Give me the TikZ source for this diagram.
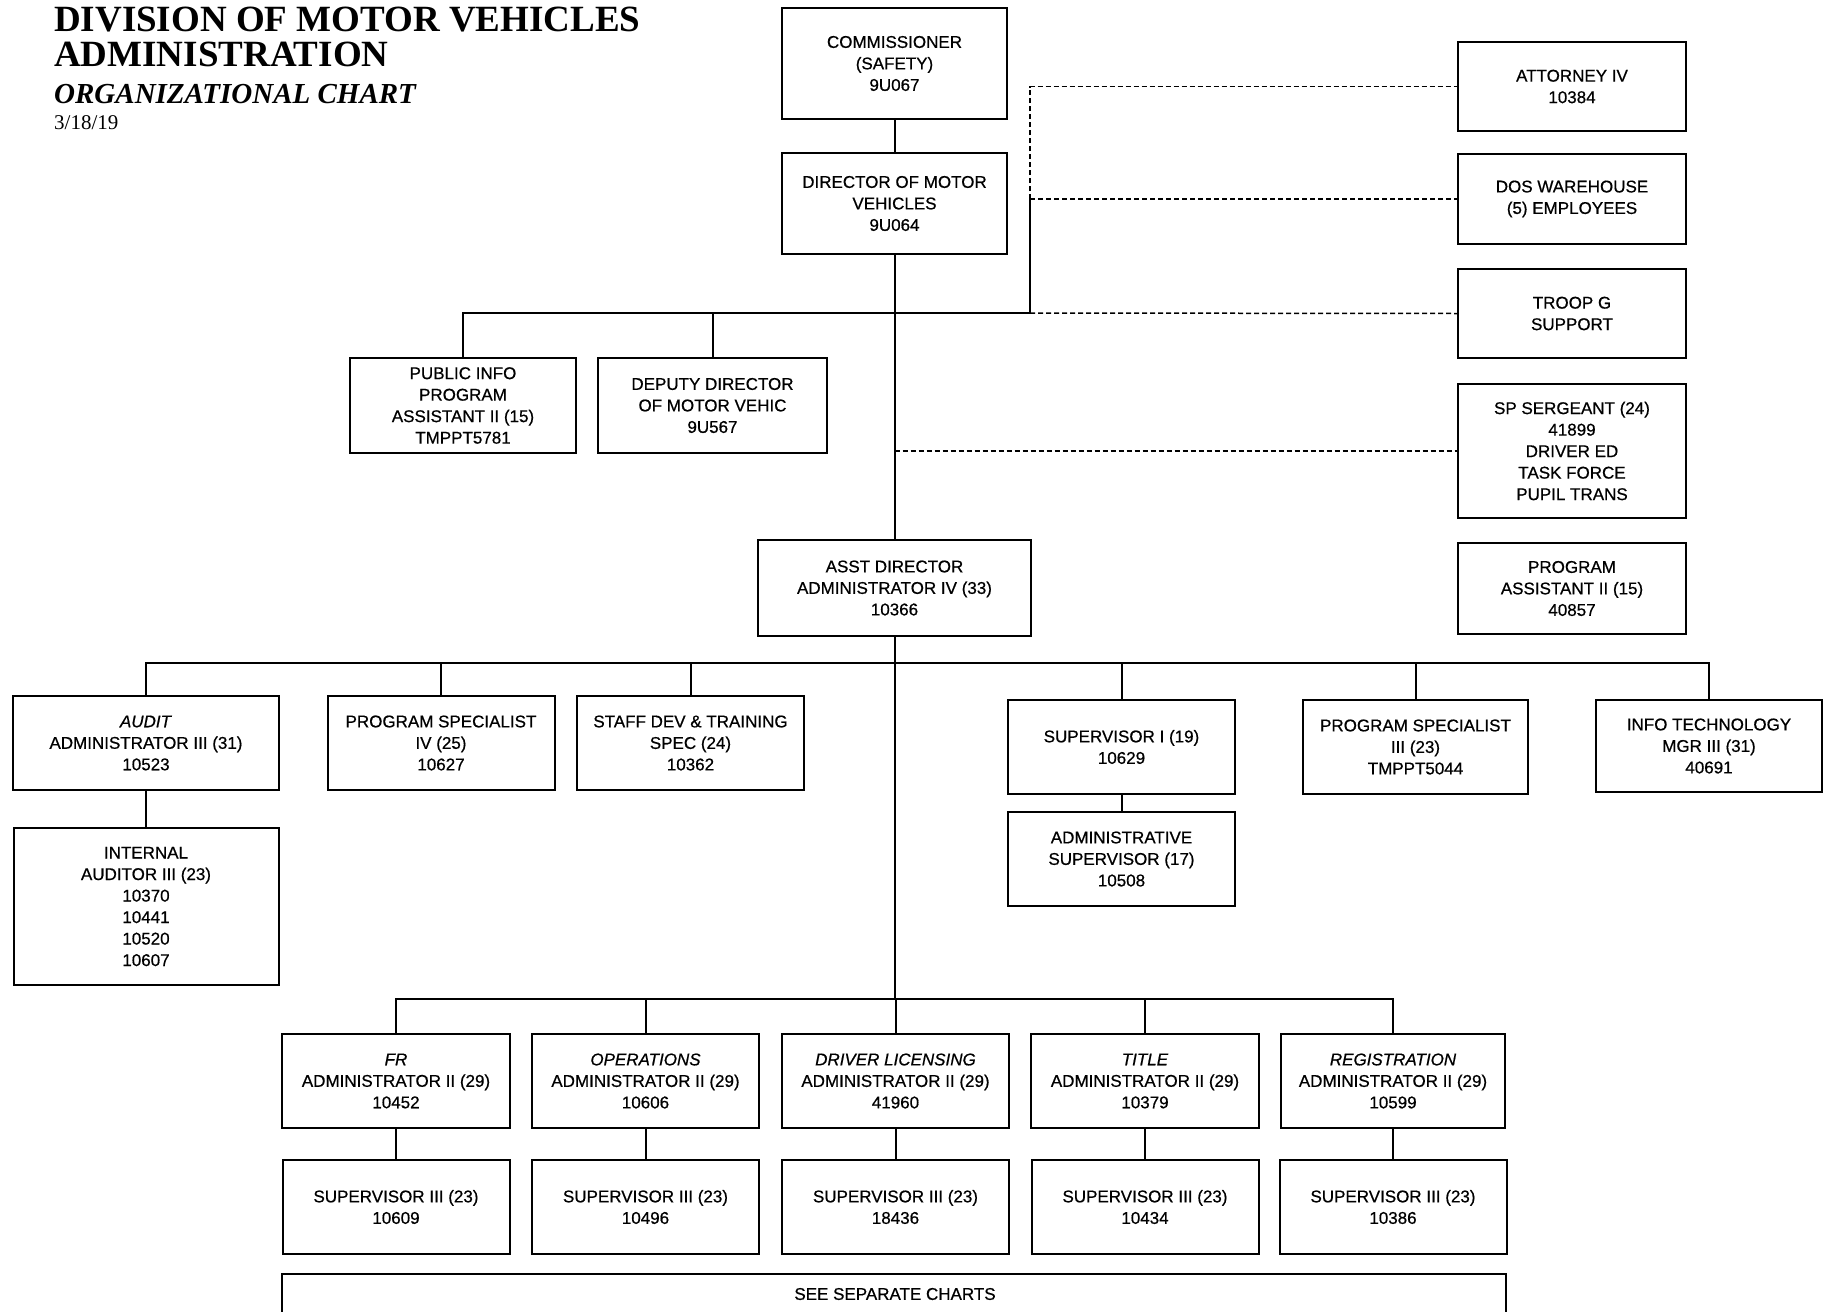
\documentclass[tikz,border=0pt]{standalone}
\usepackage{fontspec}
\newfontfamily\boxfont{Liberation Sans}[FakeBold=0.6]
\newfontfamily\headfont{Liberation Serif}

\usetikzlibrary{positioning}

\begin{document}
\begin{tikzpicture}[x=1pt,y=-1pt,
    box/.style={draw,line width=2pt,align=center,inner sep=0pt,
        font=\boxfont\fontsize{17}{21.5}\selectfont},
    unit/.style={box,minimum width=227pt,minimum height=94pt},
    link/.style={line width=2pt},
    dashlink/.style={line width=1.5pt,dash pattern=on 5pt off 3pt},
    head/.style={anchor=base west,inner sep=0pt}]
    \useasboundingbox (0,0) rectangle (1829,1312);

    \node[head,font=\headfont\bfseries\fontsize{37}{40}\selectfont] (head1) at (54,31.5) {DIVISION OF MOTOR VEHICLES};
    \node[head,font=\headfont\bfseries\fontsize{37}{40}\selectfont] (head2) at (54,66) {ADMINISTRATION};
    \node[head,font=\headfont\bfseries\itshape\fontsize{29}{33}\selectfont] (head3) at (54,103) {ORGANIZATIONAL CHART};
    \node[head,font=\headfont\fontsize{21}{24}\selectfont] (date) at (54,129) {3/18/19};

    \node[box,minimum width=225pt,minimum height=111pt] (comm) at (894.5,63.5) {COMMISSIONER\\(SAFETY)\\9U067};
    \node[box,minimum width=225pt,minimum height=101pt] (dir) at (894.5,203.5) {DIRECTOR OF MOTOR\\VEHICLES\\9U064};
    \node[unit,minimum width=226pt,minimum height=95pt] (pubinfo) at (463,405.5) {PUBLIC INFO\\PROGRAM\\ASSISTANT II (15)\\TMPPT5781};
    \node[unit,minimum width=229pt,minimum height=95pt] (deputy) at (712.5,405.5) {DEPUTY DIRECTOR\\OF MOTOR VEHIC\\9U567};

    \node[unit,minimum width=228pt,minimum height=89pt] (atty) at (1572,86.5) {ATTORNEY IV\\10384};
    \node[unit,minimum width=228pt,minimum height=90pt] (dos) at (1572,199) {DOS WAREHOUSE\\(5) EMPLOYEES};
    \node[unit,minimum width=228pt,minimum height=89pt] (troop) at (1572,313.5) {TROOP G\\SUPPORT};
    \node[unit,minimum width=228pt,minimum height=134pt] (sgt) at (1572,451) {SP SERGEANT (24)\\41899\\DRIVER ED\\TASK FORCE\\PUPIL TRANS};
    \node[unit,minimum width=228pt,minimum height=91pt,below=23pt of sgt] (progasst) {PROGRAM\\ASSISTANT II (15)\\40857};

    \node[box,minimum width=273pt,minimum height=96pt] (asst) at (894.5,588) {ASST DIRECTOR\\ADMINISTRATOR IV (33)\\10366};

    \node[unit,minimum width=266pt] (audit) at (146,743) {\textit{AUDIT}\\ADMINISTRATOR III (31)\\10523};
    \node[unit] (ps4) at (441,743) {PROGRAM SPECIALIST\\IV (25)\\10627};
    \node[unit] (staff) at (690.5,743) {STAFF DEV \& TRAINING\\SPEC (24)\\10362};
    \node[unit] (sup1) at (1121.5,747) {SUPERVISOR I (19)\\10629};
    \node[unit,minimum width=225pt] (ps3) at (1415.5,747) {PROGRAM SPECIALIST\\III (23)\\TMPPT5044};
    \node[unit,minimum width=226pt,minimum height=92pt] (itmgr) at (1709,746) {INFO TECHNOLOGY\\MGR III (31)\\40691};
    \node[unit,minimum width=265pt,minimum height=157pt,below=36pt of audit] (intaud) {INTERNAL\\AUDITOR III (23)\\10370\\10441\\10520\\10607};
    \node[unit,below=16pt of sup1] (admsup) {ADMINISTRATIVE\\SUPERVISOR (17)\\10508};

    \node[unit,minimum width=228pt] (fr) at (396,1081) {\textit{FR}\\ADMINISTRATOR II (29)\\10452};
    \node[unit] (ops) at (645.5,1081) {\textit{OPERATIONS}\\ADMINISTRATOR II (29)\\10606};
    \node[unit] (dl) at (895.5,1081) {\textit{DRIVER LICENSING}\\ADMINISTRATOR II (29)\\41960};
    \node[unit,minimum width=228pt] (title) at (1145,1081) {\textit{TITLE}\\ADMINISTRATOR II (29)\\10379};
    \node[unit,minimum width=224pt] (reg) at (1393,1081) {\textit{REGISTRATION}\\ADMINISTRATOR II (29)\\10599};
    \foreach \n/\num in {fr/10609,ops/10496,dl/18436,title/10434,reg/10386}
        \node[unit,below=30pt of \n] (sup\n) {SUPERVISOR III (23)\\\num};

    \node[box,fill=white,minimum width=1224pt,minimum height=60pt,anchor=north] (charts) at (894,1273) {};
    \node[font=\boxfont\fontsize{17}{21.5}\selectfont,inner sep=0pt] (chartstext) at (895,1294) {SEE SEPARATE CHARTS};

    \path (894.5,313) coordinate (hub1) (1030,313) coordinate (hub2) (1030,199) coordinate (hub3)
    (894.5,663) coordinate (bus1) (894.5,999) coordinate (bus2);

    \draw[link] (comm) -- (dir);
    \draw[link] (dir) -- (asst);
    \draw[link] (asst) -- (bus2);
    \draw[link] (pubinfo.north) |- (hub2) -- (hub3);
    \draw[link] (deputy.north) -- (deputy.north |- hub1);
    \draw[dashlink] (hub3) |- (atty.west);
    \draw[dashlink] (hub3) -- (dos.west);
    \draw[dashlink] (hub2) -- (troop.west);
    \draw[dashlink] (bus1 |- sgt.west) -- (sgt.west);

    \draw[link] (audit.north) |- (bus1) -| (itmgr.north);
    \foreach \n in {ps4,staff,sup1,ps3}
        \draw[link] (\n.north) -- (\n.north |- bus1);
    \draw[link] (audit) -- (intaud);
    \draw[link] (sup1) -- (admsup);

    \draw[link] (fr.north) |- (bus2) -| (reg.north);
    \foreach \n in {ops,dl,title}
        \draw[link] (\n.north) -- (\n.north |- bus2);
    \foreach \n in {fr,ops,dl,title,reg}
        \draw[link] (\n) -- (sup\n);
\end{tikzpicture}
\end{document}
